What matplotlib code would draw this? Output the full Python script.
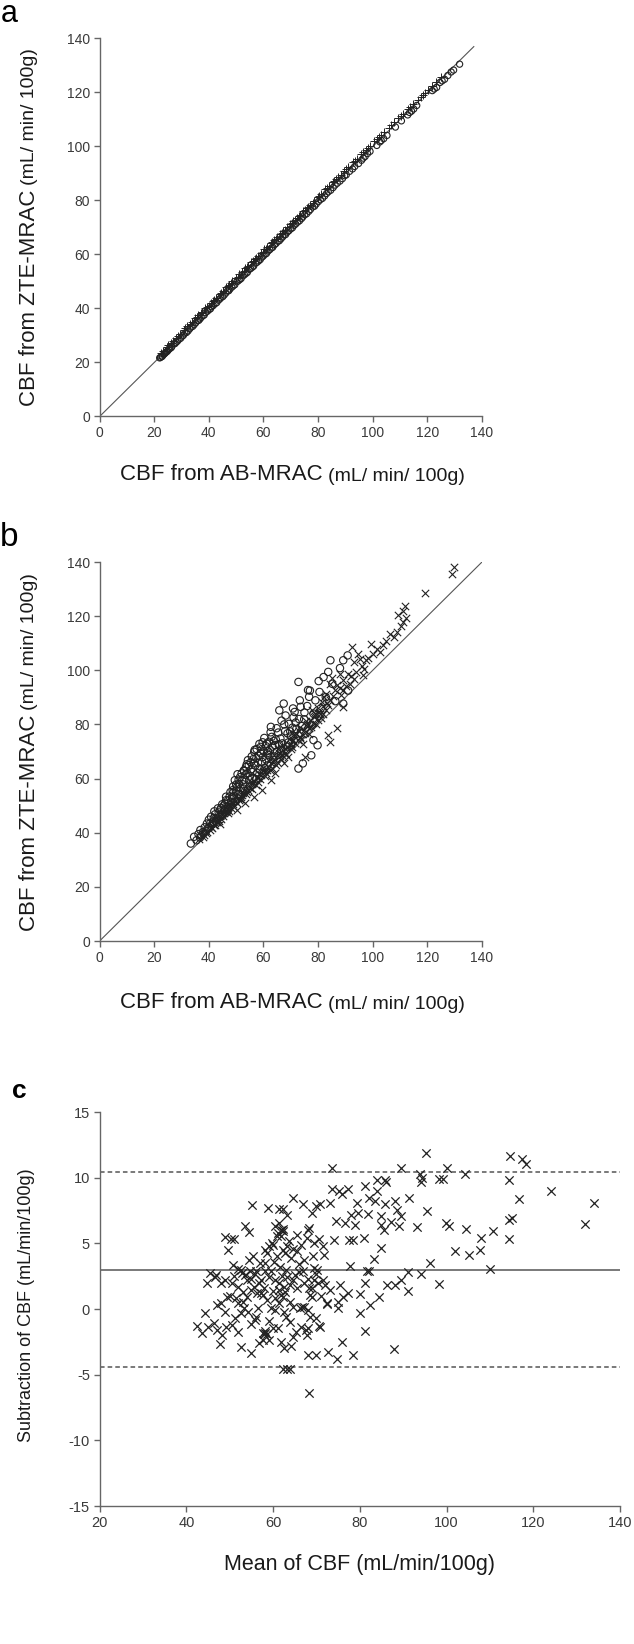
import matplotlib
matplotlib.use("Agg")
import matplotlib.pyplot as plt

plt.rcParams['font.family'] = ['Liberation Sans', 'DejaVu Sans']
plt.rcParams['axes.unicode_minus'] = False

W, H = 634, 1644

# ---- panel a: AB-MRAC vs ZTE-MRAC (circles / pluses)
a_circ_x = [22.3, 22.8, 23.5, 24.1, 24.9, 25.6, 26.4, 27.2, 28.0, 29.1, 30.3, 31.2, 32.4, 33.5,
            34.6, 35.8, 36.7, 37.9, 38.8, 40.1, 41.0, 42.3, 43.5, 44.4, 45.6, 46.8, 47.7, 48.9,
            50.2, 51.3, 52.5, 53.6, 54.8, 55.9, 57.1, 58.2, 59.4, 60.6, 61.7, 62.9, 64.0, 65.3,
            66.4, 67.6, 68.7, 70.0, 71.2, 72.5, 73.9, 75.1, 76.6, 78.0, 79.3, 80.8, 82.4, 83.7,
            85.5, 87.0, 88.9, 90.3, 92.6, 93.4, 94.8, 95.9, 97.2, 99.0, 101.5, 103.1, 104.0, 105.2,
            108.3, 112.8, 114.2, 115.0, 116.1, 122.5, 123.4, 124.6, 126.3, 127.5, 128.7, 129.6, 131.8,
            22.0, 23.0, 23.8, 24.6, 25.3, 26.1, 27.6, 28.5, 29.7, 30.7, 31.8, 33.0, 34.1, 35.2,
            36.3, 37.2, 38.3, 39.5, 40.6, 41.6, 42.9, 44.0, 45.1, 46.2, 47.3, 48.4, 49.5, 50.7,
            51.8, 53.0, 54.1, 55.3, 56.4, 57.6, 58.8, 59.9, 61.1, 62.3, 63.4, 64.6, 65.8, 67.0,
            68.1, 69.3, 70.6, 71.8, 73.2, 74.4, 75.8, 77.2, 78.7, 80.1, 81.6, 83.1, 84.6, 86.2,
            88.0, 89.7, 91.5, 96.5, 98.1, 102.6, 110.5, 113.5, 121.8, 125.4]
a_circ_y = [21.9, 22.2, 23.0, 23.6, 24.3, 25.2, 25.8, 26.9, 27.5, 28.6, 29.8, 30.9, 31.7, 33.1,
            34.0, 35.5, 36.1, 37.4, 38.5, 39.6, 40.7, 41.8, 43.1, 44.0, 45.0, 46.5, 47.2, 48.4,
            49.9, 50.7, 52.1, 53.0, 54.5, 55.3, 56.8, 57.6, 59.0, 60.1, 61.3, 62.4, 63.6, 64.9,
            65.8, 67.2, 68.3, 69.5, 70.8, 72.0, 73.3, 74.7, 76.0, 77.6, 78.7, 80.3, 81.7, 83.2,
            84.8, 86.4, 88.1, 89.5, 91.7, 92.6, 93.7, 94.9, 96.3, 98.2, 100.4, 102.2, 102.9, 104.1,
            107.2, 111.7, 113.1, 113.9, 115.2, 121.3, 121.9, 123.7, 124.9, 126.3, 127.6, 128.3, 130.5,
            21.7, 22.4, 23.3, 24.0, 24.8, 25.4, 27.0, 27.9, 29.0, 30.1, 31.1, 32.5, 33.4, 34.7,
            35.6, 36.7, 37.6, 39.0, 39.9, 41.1, 42.2, 43.5, 44.4, 45.7, 46.6, 47.9, 48.8, 50.2,
            51.1, 52.5, 53.4, 54.8, 55.7, 57.1, 58.1, 59.4, 60.4, 61.8, 62.7, 64.1, 65.1, 66.5,
            67.4, 68.8, 69.9, 71.3, 72.5, 73.9, 75.1, 76.7, 77.9, 79.6, 80.8, 82.6, 83.8, 85.7,
            87.2, 89.2, 90.8, 95.7, 97.4, 101.7, 109.5, 112.6, 120.7, 124.3]
a_plus_x = [23.2, 24.5, 26.0, 27.8, 29.5, 30.8, 32.0, 33.2, 34.9, 36.2, 37.5, 38.6, 39.9, 41.4,
            42.7, 43.9, 45.2, 46.3, 47.4, 48.6, 49.8, 51.0, 52.1, 53.3, 54.5, 55.6, 56.8, 58.0,
            59.1, 60.3, 61.4, 62.6, 63.8, 65.0, 66.1, 67.3, 68.5, 69.7, 70.9, 72.1, 73.4, 74.6,
            75.8, 77.1, 78.4, 79.8, 81.1, 82.6, 84.0, 85.3, 86.7, 88.2, 89.5, 91.1, 92.7, 94.3,
            95.8, 97.4, 99.1, 100.6, 102.3, 104.2, 105.9, 107.8, 109.4, 111.2, 112.9, 114.7,
            116.6, 118.3, 120.1, 121.7, 123.2, 125.0,
            22.6, 25.1, 26.7, 28.6, 31.4, 33.8, 35.6, 37.0, 39.2, 40.7, 42.0, 44.6, 46.9, 48.0,
            50.5, 52.7, 53.9, 56.2, 57.4, 59.7, 60.9, 63.2, 64.4, 66.7, 67.9, 70.3, 71.5, 73.0,
            75.2, 76.4, 78.0, 80.5, 83.3, 85.9, 87.4, 90.3, 93.5, 96.6, 98.3, 101.5, 103.2, 106.8,
            110.3, 113.8, 117.5, 119.2]
a_plus_y = [24.1, 25.9, 27.3, 29.1, 30.6, 32.2, 33.5, 34.4, 36.3, 37.5, 38.8, 40.2, 41.1, 42.9,
            44.0, 45.3, 46.6, 47.9, 48.8, 50.1, 51.2, 52.6, 53.5, 54.9, 55.9, 57.2, 58.3, 59.6,
            60.5, 61.9, 62.8, 64.1, 65.3, 66.4, 67.7, 68.8, 70.0, 71.2, 72.3, 73.6, 74.8, 76.1,
            77.3, 78.4, 79.9, 81.2, 82.5, 84.1, 85.3, 86.8, 88.1, 89.6, 90.9, 92.4, 94.1, 95.5,
            97.2, 98.6, 100.3, 101.9, 103.4, 105.3, 107.0, 109.1, 110.5, 112.2, 113.8, 115.6,
            117.3, 119.0, 120.8, 122.5, 123.9, 125.6,
            23.7, 26.5, 28.1, 29.9, 32.6, 35.1, 36.9, 38.3, 40.5, 42.0, 43.2, 45.9, 48.2, 49.3,
            51.8, 54.0, 55.2, 57.5, 58.7, 61.0, 62.1, 64.5, 65.7, 67.9, 69.2, 71.5, 72.8, 74.2,
            76.5, 77.7, 79.2, 81.8, 84.6, 87.2, 88.7, 91.6, 94.7, 97.9, 99.5, 102.7, 104.4, 108.0,
            111.4, 114.8, 118.3, 119.9]

# ---- panel b
b_circ_x = [33.4, 34.6, 35.5, 36.9, 36.2, 37.8, 38.5, 39.3, 40.2, 40.8, 41.5, 42.3, 43.0, 44.0,
            44.8, 45.5, 46.3, 46.9, 47.6, 48.1, 48.7, 49.2, 49.5, 50.3, 50.8, 51.4, 52.0, 52.4,
            53.0, 53.6, 54.1, 54.3, 55.0, 55.6, 56.3, 56.6, 57.0, 57.7, 58.2, 59.0, 59.4, 60.1,
            60.5, 61.2, 61.7, 62.3, 63.0, 63.5, 62.7, 64.2, 65.0, 65.8, 66.2, 67.4, 67.9, 68.5,
            69.3, 70.1, 71.0, 72.0, 72.8, 73.6, 72.8, 74.4, 75.0, 76.7, 77.5, 78.3, 78.3, 79.8,
            80.5, 82.0, 83.7, 84.5, 85.2, 86.3, 88.0, 89.2, 90.8, 89.2, 91.0, 45.0, 47.2, 49.8,
            51.6, 53.3, 55.2, 57.3, 59.6, 61.5, 64.0, 66.5, 69.0, 39.0, 42.8, 58.7, 60.9, 55.9,
            52.7, 50.7,
            38.0, 40.5, 41.8, 43.6, 44.5, 46.0, 47.0, 48.5, 49.0, 50.0, 51.0, 52.3, 53.4, 54.6,
            55.3, 56.0, 57.4, 58.0, 58.9, 59.8, 60.8, 61.6, 62.0, 63.3, 64.5, 65.4, 66.9, 67.6,
            68.8, 70.6, 71.4, 73.0, 74.0, 76.0, 77.0, 79.0, 81.0, 52.8, 50.9, 56.8, 44.2, 46.6,
            36.8, 37.3, 39.8, 40.0, 41.2, 42.0, 43.3, 44.9, 45.8, 46.3, 47.9, 48.9, 49.9, 50.5,
            51.7, 52.9, 53.9, 54.8, 55.7, 56.5, 57.5, 58.5, 59.7, 60.3, 61.3, 62.6, 63.8, 64.8,
            65.6, 66.6, 68.1, 69.8, 70.8, 71.8, 73.3, 74.9, 76.3, 77.8, 80.2, 82.8]
b_circ_y = [36.0, 38.5, 37.2, 41.0, 39.5, 40.2, 42.0, 43.4, 41.8, 45.9, 44.1, 46.8, 45.2, 48.3,
            47.0, 50.1, 52.0, 49.5, 53.4, 51.2, 55.7, 53.6, 59.4, 56.8, 54.2, 60.5, 61.9, 57.9,
            59.6, 64.3, 62.0, 66.8, 60.8, 63.5, 67.2, 69.9, 64.8, 62.1, 68.4, 71.7, 66.2, 70.1,
            64.0, 72.9, 68.7, 70.6, 75.4, 66.9, 79.1, 72.4, 70.0, 85.2, 74.8, 87.7, 77.5, 71.8,
            80.2, 75.6, 82.6, 78.3, 95.7, 86.5, 63.7, 65.6, 84.4, 90.2, 68.6, 84.0, 74.2, 72.3,
            92.0, 97.5, 99.4, 103.7, 95.0, 88.6, 100.8, 103.7, 105.5, 87.7, 92.5, 46.2, 48.5, 51.5,
            53.0, 55.4, 57.3, 59.8, 62.2, 64.9, 68.1, 70.7, 73.3, 40.5, 44.0, 63.5, 67.1, 60.2,
            56.3, 52.6,
            39.6, 43.5, 45.4, 47.5, 49.2, 50.8, 51.9, 53.0, 54.9, 57.8, 58.0, 59.3, 61.4, 64.9,
            66.0, 62.4, 67.6, 65.9, 69.4, 68.0, 72.0, 70.2, 73.6, 71.8, 74.5, 77.0, 73.0, 80.0,
            76.7, 78.8, 84.6, 82.0, 79.4, 86.8, 92.5, 88.9, 86.0, 63.0, 59.6, 70.6, 46.0, 47.5,
            38.2, 39.0, 41.9, 44.8, 43.0, 47.9, 49.0, 50.5, 48.7, 53.3, 55.0, 57.1, 55.6, 61.6,
            56.4, 62.8, 65.3, 59.5, 68.2, 65.6, 70.9, 72.8, 73.4, 75.0, 69.3, 77.1, 73.9, 78.6,
            72.7, 81.4, 83.3, 77.4, 85.9, 80.7, 88.9, 81.9, 92.7, 79.6, 96.0, 90.1]
b_cross_x = [129.7, 129.0, 119.1, 111.8, 111.0, 109.1, 112.3, 111.0, 106.3, 107.9, 104.8, 99.3,
             101.7, 100.1, 92.3, 94.6, 95.4, 97.7, 96.9, 93.1, 90.8, 89.2, 91.5, 93.1, 89.2, 86.8,
             84.5, 82.9, 84.5, 81.4, 89.2, 79.0, 82.9, 86.8, 83.7, 84.5, 79.8, 76.7, 74.4, 75.1,
             72.0, 70.4, 68.9, 67.4, 64.2, 62.7, 59.6, 56.4, 53.3, 50.2, 47.1, 44.0, 40.8, 37.7,
             36.5, 38.9, 41.9, 43.2, 45.3, 46.0, 48.0, 49.0, 51.2, 52.2, 54.0, 55.1, 57.2, 58.1,
             60.4, 61.3, 63.1, 64.8, 65.9, 67.8, 69.6, 70.9, 71.7, 73.2, 74.8, 76.0, 77.4, 78.5,
             80.6, 81.9, 83.1, 85.6, 86.0, 87.9, 88.5, 90.1, 92.0, 94.0, 95.9, 98.2, 102.7, 103.9,
             108.7, 110.4, 96.5, 88.0, 85.0, 82.2, 80.0, 77.9, 75.6, 73.5, 71.3, 69.2, 67.0, 65.3,
             63.8, 62.0, 60.0, 58.5, 56.7, 54.6, 53.0, 50.6, 48.4, 46.5, 44.6, 42.5,
             39.5, 41.0, 42.2, 43.8, 45.7, 47.5, 48.8, 50.4, 51.8, 53.6, 55.7, 56.2, 57.9, 59.2,
             60.9, 62.4, 63.4, 64.4, 66.4, 67.2, 68.2, 69.9, 70.5, 72.6, 74.0, 75.3, 76.8, 78.0,
             79.3, 81.0,
             38.2, 40.3, 42.9, 44.3, 46.8, 47.8, 49.6, 51.5, 52.6, 54.3, 55.8, 57.5, 58.8, 59.9,
             61.8, 62.8, 64.0, 65.6, 66.8, 68.6, 70.2, 71.0, 72.9, 73.8, 75.9, 77.0, 78.9, 80.3,
             81.7, 83.5]
b_cross_y = [138.1, 135.4, 128.5, 123.6, 121.9, 120.3, 119.4, 117.8, 113.3, 112.3, 111.0, 109.6,
             108.0, 106.2, 108.6, 106.2, 104.3, 103.7, 100.6, 103.1, 98.8, 96.3, 95.1, 96.9, 92.6,
             94.5, 94.8, 91.4, 88.9, 88.3, 86.5, 84.0, 85.2, 78.5, 76.0, 73.6, 81.6, 76.6, 72.9,
             68.0, 76.6, 71.7, 68.0, 65.6, 61.9, 59.4, 55.7, 53.3, 50.8, 48.3, 47.1, 43.4, 42.2,
             38.5, 37.6, 39.8, 42.8, 44.9, 46.0, 48.2, 49.1, 50.6, 51.9, 53.9, 55.0, 56.6, 57.8,
             60.3, 61.0, 63.2, 64.0, 66.3, 68.2, 69.4, 72.5, 74.1, 73.0, 75.4, 78.0, 80.1, 79.2,
             82.7, 83.9, 86.9, 88.0, 90.5, 92.7, 93.6, 91.0, 94.1, 97.8, 99.2, 101.5, 104.6, 106.9,
             109.3, 114.2, 116.4, 98.3, 98.5, 97.2, 90.0, 86.2, 85.5, 81.1, 79.0, 76.5, 74.6, 71.9,
             71.0, 68.6, 66.5, 63.9, 61.7, 59.1, 57.6, 55.8, 53.0, 51.4, 49.8, 46.9, 45.5,
             40.1, 41.6, 43.0, 44.3, 47.2, 48.0, 50.0, 50.9, 53.1, 54.2, 56.0, 58.2, 58.9, 61.3,
             62.1, 63.0, 66.0, 65.0, 67.2, 70.4, 69.0, 71.0, 73.9, 74.2, 76.4, 77.0, 78.8, 80.5,
             80.2, 82.4,
             39.0, 40.9, 44.1, 45.0, 48.6, 50.3, 51.8, 52.5, 54.7, 55.6, 58.0, 60.5, 59.8, 62.9,
             64.4, 65.9, 67.3, 69.6, 68.6, 71.6, 72.8, 75.8, 77.6, 74.6, 79.5, 81.8, 83.0, 84.6,
             84.0, 87.0]

# ---- panel c: Bland-Altman
c_mean = [95.3, 114.6, 117.4, 118.4, 73.5, 89.5, 100.2, 93.9, 94.4, 104.2, 94.2, 98.3, 99.3, 114.3,
          84.0, 85.9, 86.1, 124.0, 134.1, 116.6, 73.6, 75.3, 77.2, 81.2, 75.9, 84.0, 82.1, 83.5,
          88.2, 91.3, 85.9, 79.3, 73.2, 64.7, 66.8, 62.4, 61.4, 58.8, 55.2, 69.9, 70.8, 69.0,
          63.3, 77.9, 79.6, 81.8, 84.9, 89.5, 95.5, 115.1, 114.4, 88.5, 74.6, 76.5, 78.8, 84.9,
          87.2, 89.1, 93.2, 99.8, 100.5, 132.0, 110.7, 104.6, 85.6, 68.4, 68.0, 61.4, 60.4, 61.9,
          62.4, 53.6, 54.5, 48.9, 50.3, 51.1, 49.6, 70.5, 74.1, 77.4, 78.4, 81.0, 114.3, 108.0,
          71.6, 71.8, 84.8, 101.9, 105.2, 107.7, 83.3, 96.2, 77.7, 110.1, 65.6, 67.1, 55.3, 54.4,
          58.1, 58.1, 59.0, 60.0, 60.9, 61.9, 62.4, 62.8, 63.1, 64.2, 69.2, 69.5, 70.1, 50.8,
          52.0, 81.6, 82.1, 91.1, 94.2, 89.6, 88.2, 86.3, 98.2, 91.1, 81.2, 84.4, 82.4, 80.0,
          81.1, 88.0, 80.0, 77.2, 75.5, 76.2, 75.0, 75.0, 72.5, 72.5, 75.8, 74.7, 72.7, 78.4,
          69.9, 68.0, 68.3, 63.8, 63.1, 62.4,
          44.7, 46.8, 46.6, 45.4, 47.9, 50.6, 52.0, 53.9, 52.9, 54.6, 55.8, 57.2, 58.1, 59.1,
          60.5, 61.4, 62.5, 63.3, 64.7, 65.9, 67.1, 68.2, 69.4, 70.4, 71.6, 72.0, 73.2, 49.4,
          48.0, 47.1, 49.0, 44.3, 42.4, 43.7, 45.0, 46.4, 47.1, 48.2, 47.8, 49.2, 50.6, 51.8,
          51.2, 52.5, 53.4, 52.0, 51.5, 53.1, 53.9, 54.8, 56.2, 57.2, 57.6, 56.5, 55.8, 57.6,
          58.1, 58.6, 57.6, 56.7, 55.0, 52.5, 54.8, 59.1, 60.0, 61.2, 61.9, 62.5, 64.2, 64.7,
          65.2, 63.0, 60.5, 59.5, 61.4, 62.4, 63.8, 64.7, 66.1, 66.6, 67.1, 68.0, 68.5, 69.9,
          70.8, 70.7, 68.0, 67.5, 68.6, 69.0, 65.6, 61.9, 60.5, 58.6, 60.0, 61.4, 62.8,
          52.5, 53.5, 55.0, 56.0, 56.8, 58.0, 59.5, 60.2, 61.0, 61.5, 62.0, 63.0, 64.0, 65.0,
          66.0, 67.0, 68.0, 69.0, 70.0, 71.0, 55.5, 57.0, 58.5, 59.8, 61.2, 62.3, 63.6, 64.5,
          65.5, 66.5, 67.8, 69.5, 51.0, 50.0, 49.0, 53.0, 54.2, 56.0, 59.0, 62.5, 64.0, 66.5,
          67.8, 58.2, 57.8]
c_diff = [11.91, 11.66, 11.40, 11.02, 10.71, 10.71, 10.71, 10.26, 10.00, 10.26, 9.67, 9.92, 9.92,
          9.82, 9.82, 9.82, 9.67, 8.98, 8.06, 8.34, 9.11, 8.98, 9.11, 9.36, 8.72, 8.98, 8.47,
          8.21, 8.21, 8.47, 7.96, 8.04, 8.04, 8.47, 7.96, 7.63, 7.58, 7.70, 7.91, 7.83, 7.96,
          7.32, 7.19, 7.19, 7.32, 7.27, 7.07, 7.07, 7.45, 6.94, 6.81, 7.53, 6.68, 6.56, 6.43,
          6.43, 6.61, 6.30, 6.25, 6.56, 6.30, 6.48, 5.92, 6.10, 6.05, 6.17, 6.05, 6.56, 6.30,
          6.05, 5.92, 6.35, 5.84, 5.48, 5.36, 5.36, 4.52, 5.36, 5.28, 5.28, 5.28, 5.41, 5.36,
          5.41, 4.77, 4.13, 4.64, 4.39, 4.13, 4.52, 3.83, 3.49, 3.24, 3.06, 4.39, 3.75, 4.01,
          3.75, 3.49, 4.52, 4.77, 4.90, 5.54, 5.54, 4.52, 4.26, 4.77, 3.88, 4.01, 3.11, 2.98,
          3.37, 3.06, 2.86, 2.86, 2.78, 2.68, 2.22, 1.84, 1.84, 1.89, 1.40, 1.96, 0.94, 0.31,
          -0.33, -1.66, -3.01, 1.15, 1.25, 1.84, 0.89, 0.56, 0.05, 0.43, 0.36, -2.55, -3.78,
          -3.27, -3.52, -3.52, -3.52, -6.38, -4.54, -4.54, -4.54,
          1.96, 2.60, 2.47, 2.73, 1.96, 1.96, 1.71, 2.22, 2.73, 2.91, 2.68, 2.22, 2.86, 2.47,
          2.22, 1.96, 1.66, 2.47, 2.22, 2.78, 1.96, 1.58, 2.22, 1.96, 2.22, 1.84, 1.45, 0.94,
          0.43, 0.31, -0.20, -0.33, -1.30, -1.86, -1.35, -1.10, -1.61, -1.99, -2.68, -1.35,
          -1.22, -1.73, -0.71, -0.33, 0.05, 0.43, 0.82, 1.33, 0.94, 1.45, 1.20, 1.20, 1.07,
          0.05, -0.84, -1.81, -1.86, -1.91, -2.37, -2.58, -1.15, -2.88, -3.34, -2.37, -1.48,
          -1.48, -2.55, -2.96, -2.81, -2.12, -1.73, -0.59, -0.08, 0.05, 0.43, 0.94, 0.56, 0.18,
          0.05, 0.13, 0.13, -0.08, -0.59, -0.71, -1.35, -1.30, -1.48, -1.61, 1.07, 0.94, 1.58,
          1.07, 0.82, 0.69, 1.40, 1.45, 1.33,
          3.0, 2.6, 2.3, 2.9, 2.0, 1.6, 2.9, 3.6, 4.0, 3.2, 2.5, 3.0, 1.8, 2.6, 3.4, 2.9, 2.3,
          1.6, 2.7, 1.0, 1.7, 3.5, 4.3, 5.0, 5.8, 6.1, 5.2, 4.6, 5.6, 4.9, 5.4, 5.0, 2.5, 1.0,
          2.2, 0.5, -0.2, -0.6, -0.9, -0.2, -1.0, -1.4, -2.0, -1.7, -1.9]
c_bias = 3.0
c_limits = [10.45, -4.45]

ticks_ab = [0, 20, 40, 60, 80, 100, 120, 140]
ticks_c_x = [20, 40, 60, 80, 100, 120, 140]
ticks_c_y = [-15, -10, -5, 0, 5, 10, 15]

mark = '#222222'
spine = '#666666'
tickc = '#3a3a3a'
txt = '#1a1a1a'


def px_axes(l, t, r, b):
    return [l / W, 1 - b / H, (r - l) / W, (b - t) / H]


def style(ax, size):
    for s in ['top', 'right']:
        ax.spines[s].set_visible(False)
    for s in ['left', 'bottom']:
        ax.spines[s].set_color(spine)
        ax.spines[s].set_linewidth(1.0)
    ax.tick_params(direction='out', length=4, width=1.0, color=spine,
                   labelsize=size, labelcolor=tickc, pad=3)


def fx(x): return x / W
def fy(y): return 1 - y / H


fig = plt.figure(figsize=(W / 100, H / 100), dpi=100)

# panel a
ax1 = fig.add_axes(px_axes(99.6, 38.5, 482, 416.5))
ax1.plot([0, 137], [0, 137], color='#555555', lw=0.8, zorder=1)
ax1.scatter(a_plus_x, a_plus_y, marker='+', s=30, color=mark, linewidths=0.7, zorder=2)
ax1.scatter(a_circ_x, a_circ_y, marker='o', s=20, facecolors='none', edgecolors=mark,
            linewidths=0.8, zorder=3)
ax1.set_xlim(0, 140); ax1.set_ylim(0, 140)
ax1.set_xticks(ticks_ab); ax1.set_yticks(ticks_ab)
style(ax1, 10)

# panel b
ax2 = fig.add_axes(px_axes(99.6, 562, 482, 941))
ax2.plot([0, 140], [0, 140], color='#555555', lw=0.8, zorder=1)
ax2.scatter(b_circ_x, b_circ_y, marker='o', s=28, facecolors='none', edgecolors=mark,
            linewidths=0.8, zorder=2)
ax2.scatter(b_cross_x, b_cross_y, marker='x', s=28, color=mark, linewidths=0.8, zorder=3)
ax2.set_xlim(0, 140); ax2.set_ylim(0, 140)
ax2.set_xticks(ticks_ab); ax2.set_yticks(ticks_ab)
style(ax2, 10)

# panel c
ax3 = fig.add_axes(px_axes(99.6, 1112, 620, 1506))
ax3.axhline(c_bias, color='#555555', lw=1.1)
for v in c_limits:
    ax3.axhline(v, color='#555555', lw=1.1, linestyle=(0, (3, 2)))
ax3.scatter(c_mean, c_diff, marker='x', s=36, color=mark, linewidths=0.9, zorder=3)
ax3.set_xlim(20, 140); ax3.set_ylim(-15, 15)
ax3.set_xticks(ticks_c_x); ax3.set_yticks(ticks_c_y)
style(ax3, 10.5)

# axis labels of a and b: main part plus smaller units part
big, small = 16, 14
for y_bottom, y_base in [(406, 480), (931, 1008)]:
    main_y = fig.text(fx(30), fy(y_bottom), 'CBF from ZTE-MRAC', rotation=90, fontsize=big,
                      ha='center', va='bottom', color=txt)
    plt.annotate('(mL/ min/ 100g)', xy=(0.5, 1), xycoords=main_y, xytext=(0, 3),
                 textcoords='offset points', rotation=90, fontsize=small,
                 ha='center', va='bottom', color=txt, annotation_clip=False)
    main_x = fig.text(fx(120), fy(y_base), 'CBF from AB-MRAC', fontsize=big,
                      ha='left', va='baseline', color=txt)
    plt.annotate('(mL/ min/ 100g)', xy=(1, 0), xycoords=main_x, xytext=(4, 0),
                 textcoords='offset points', fontsize=small,
                 ha='left', va='bottom', color=txt, annotation_clip=False)

fig.text(fx(27), fy(1305), 'Subtraction of CBF (mL/min/100g)', rotation=90, fontsize=13,
         ha='center', va='center', color=txt)
fig.text(fx(360), fy(1570), 'Mean of CBF (mL/min/100g)', fontsize=15.5,
         ha='center', va='baseline', color=txt)

fig.text(fx(1), fy(22), 'a', fontsize=22, ha='left', va='baseline')
fig.text(fx(0), fy(546), 'b', fontsize=24, ha='left', va='baseline')
fig.text(fx(12), fy(1098), 'c', fontsize=19, fontweight='bold', ha='left', va='baseline')

fig.savefig('out.png', dpi=100)
